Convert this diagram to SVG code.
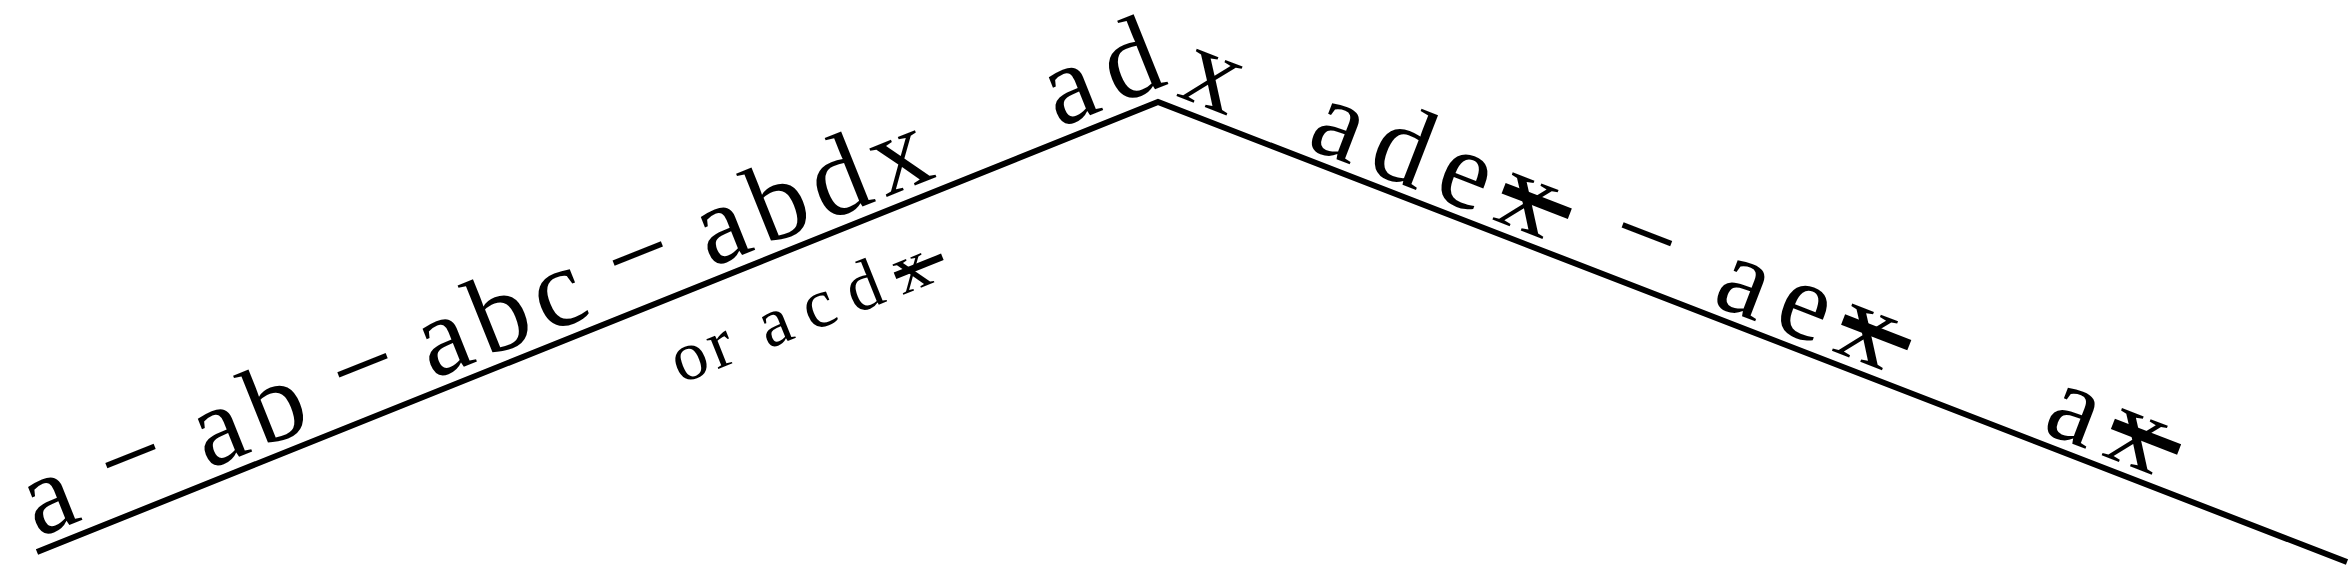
<svg xmlns="http://www.w3.org/2000/svg" width="2350" height="567" viewBox="0 0 2350 567">
<style>
.ln{fill:none;stroke:#000;stroke-width:6;stroke-linejoin:miter}
.t{font-family:"Liberation Serif","Times New Roman",serif;font-size:112px;fill:#000}
.w{letter-spacing:9px}
.wd{letter-spacing:14px}
.r{letter-spacing:15px}
.s{font-size:70px;letter-spacing:16px}
.so{font-size:70px;letter-spacing:4px}
.k{text-decoration:line-through;text-decoration-thickness:8px}
.ks{text-decoration:line-through;text-decoration-thickness:5px}
</style>
<rect width="2350" height="567" fill="#fff"/>
<g id="connectors">
<polyline class="ln" points="37,552 1158,102 2347,562"/>
</g>
<g id="left-label" transform="translate(37,552) rotate(-21.87)">
<text class="t" x="6" y="-13">a</text>
<text class="t" x="91" y="-17">−</text>
<text class="t w" x="189" y="-13">ab</text>
<text class="t" x="340" y="-15">−</text>
<text class="t w" x="431" y="-13">abc</text>
<text class="t" x="637" y="-16">−</text>
<text class="t w" x="731" y="-13">abdx</text>
<text class="t wd" x="1106" y="-13">ad</text>
</g>
<g id="alt-label" transform="translate(37,552) rotate(-21.87)">
<text class="t so" x="660" y="84">or</text>
<text class="t s" x="754" y="84">acd<tspan class="ks">x</tspan></text>
</g>
<g id="peak-label" transform="translate(1158,102) rotate(21.15)">
<text class="t" x="14" y="-12">x</text>
</g>
<g id="right-label" transform="translate(1158,102) rotate(21.15)">
<text class="t r" x="153" y="-11">ade<tspan class="k">x</tspan></text>
<text class="t" x="472" y="-16">−</text>
<text class="t r" x="588" y="-11">ae<tspan class="k">x</tspan></text>
<text class="t r" x="942" y="-11">a<tspan class="k">x</tspan></text>
</g>
</svg>
